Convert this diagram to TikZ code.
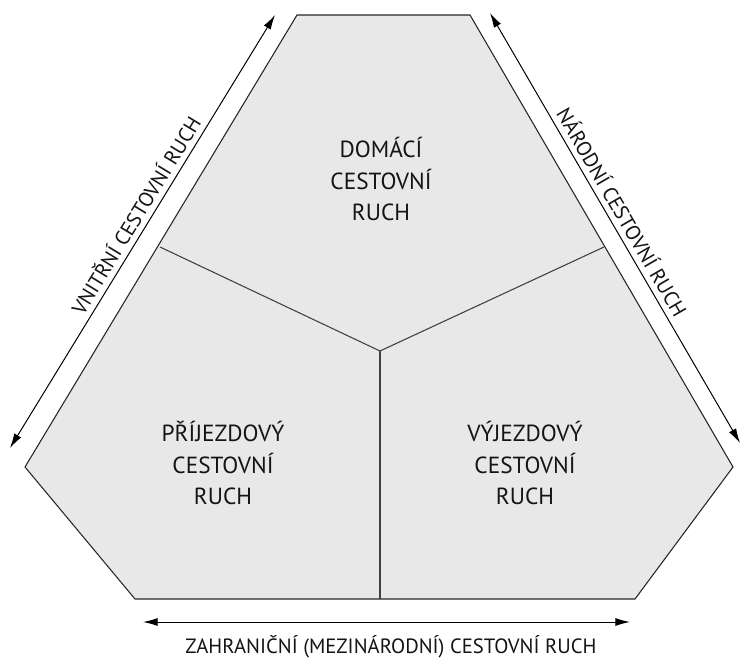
\documentclass[tikz,border=0pt]{standalone}
\usepackage{fontspec}
\setmainfont{PT Sans}
\usetikzlibrary{arrows.meta}
\tikzset{
  region/.style={fill=black!9, draw=black!85, line width=0.8pt, line join=miter},
  divider/.style={draw=black!75, line width=0.8pt},
  dblarrow/.style={draw=black, line width=0.75pt, {Latex[length=11pt,width=6pt]}-{Latex[length=11pt,width=6pt]}},
  sectorlabel/.style={align=center, font=\fontsize{17.5}{23.5}\selectfont, text=black!92},
  sidelabel/.style={font=\fontsize{15.5}{18}\selectfont, text=black!92, inner sep=2pt},
}
\begin{document}
\begin{tikzpicture}[x=0.75pt, y=-0.75pt]
\useasboundingbox (0,0) rectangle (741,657);
% hexagon vertices
\coordinate (tl) at (297,15);
\coordinate (tr) at (470,15);
\coordinate (r) at (733,467);
\coordinate (br) at (635,599);
\coordinate (bl) at (135,599);
\coordinate (l) at (25,467);
% dividers
\coordinate (c) at (380,351);
\coordinate (dl) at (160,247);
\coordinate (dr) at (604,247);
\coordinate (db) at (380,599);
% arrow ends
\coordinate (la1) at (10,448);
\coordinate (la2) at (275,15);
\coordinate (ra1) at (490,13);
\coordinate (ra2) at (740,443);
\coordinate (ba1) at (143,622);
\coordinate (ba2) at (630,622);

\path[region] (tl) -- (tr) -- (r) -- (br) -- (bl) -- (l) -- cycle;
\draw[divider] (dl) -- (c) -- (dr);
\draw[divider] (c) -- (db);

\node[sectorlabel] (dom) at (381,179) {DOMÁCÍ\\CESTOVNÍ\\RUCH};
\node[sectorlabel] (pri) at (223,463) {PŘÍJEZDOVÝ\\CESTOVNÍ\\RUCH};
\node[sectorlabel] (vyj) at (525,463) {VÝJEZDOVÝ\\CESTOVNÍ\\RUCH};

\draw[dblarrow] (la1) -- (la2) node[sidelabel, pos=0.52, sloped, anchor=south, inner sep=4pt] (vnitrni) {VNITŘNÍ CESTOVNÍ RUCH};
\draw[dblarrow] (ra1) -- (ra2) node[sidelabel, pos=0.48, sloped, anchor=south, inner sep=4pt] (narodni) {NÁRODNÍ CESTOVNÍ RUCH};
\draw[dblarrow] (ba1) -- (ba2);
\node[sidelabel, anchor=base] (zahr) at (391,653) {ZAHRANIČNÍ (MEZINÁRODNÍ) CESTOVNÍ RUCH};
\end{tikzpicture}
\end{document}
